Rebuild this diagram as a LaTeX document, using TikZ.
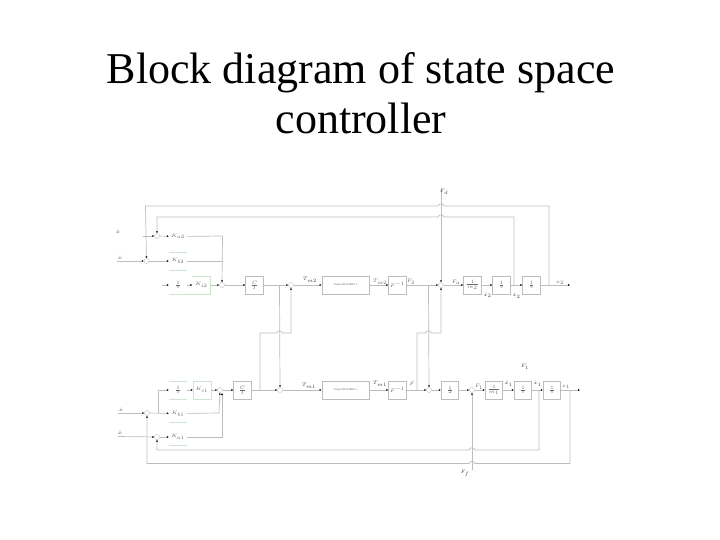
\documentclass[tikz,border=0pt]{standalone}
\usepackage{fontspec}
\setmainfont{Liberation Serif}
\usetikzlibrary{arrows.meta}
\DeclareMathSizes{3.2}{3.2}{2.4}{2}
\DeclareMathSizes{3.6}{3.6}{2.6}{2}
\definecolor{ln}{HTML}{BDBDBD}
\definecolor{gr}{HTML}{CFE5CF}
\definecolor{tx}{HTML}{666666}
\tikzset{
  x=1pt,y=-1pt,
  wire/.style={draw=ln,line width=0.7pt},
  arr/.style={wire,-{Latex[black,length=2pt,width=2pt]}},
  blk/.style={draw=ln,line width=0.7pt,minimum width=17.5pt,minimum height=18pt,inner sep=0pt,font=\fontsize{3.2}{3.5}\selectfont\itshape,text=tx,fill=white},
  gblk/.style={blk,draw=none},
  sumj/.style={circle,draw=ln,line width=0.4pt,minimum size=5pt,inner sep=0pt,fill=white},
  lbl/.style={font=\fontsize{3.6}{4}\selectfont\itshape,text=tx,inner sep=0pt},
  dlbl/.style={lbl,text=black!75},
  ttl/.style={font=\fontsize{44}{50}\selectfont,align=center,inner sep=0pt,text=black}
}
\begin{document}
\begin{tikzpicture}
\useasboundingbox (0,0) rectangle (720,540);
\node[ttl] (title) at (361,93) {Block diagram of state space\\controller};
% top row
\node[sumj] (s1) at (157,236) {};
\node[sumj] (s2) at (146.5,261) {};
\node[gblk] (ka) at (178,236.5) {$K_{a2}$};
\node[gblk] (kb) at (178,261) {$K_{b2}$};
\node[gblk] (i2) at (178,285) {$\frac{1}{s}$};
\node[gblk] (ki2) at (201.5,285) {$K_{i2}$};
\node[sumj] (s3) at (222,285) {};
\node[blk] (c2) at (254.5,285) {$\frac{C}{I}$};
\node[sumj] (s4) at (291,285) {};
\node[blk,minimum width=47pt] (t2) at (345.5,285) {\fontsize{2.8}{3}\selectfont\upshape Torque MG6/MRG 2};
\node[blk] (f2) at (397.5,285) {$F^{-1}$};
\node[sumj] (s5) at (441,285) {};
\node[blk] (m2) at (472.5,285) {$\frac{1}{m_2}$};
\node[blk] (v2) at (501.5,285) {$\frac{1}{s}$};
\node[blk] (x2) at (531.5,285) {$\frac{1}{s}$};
\coordinate (o2) at (570,285);
\coordinate (in2) at (117,261);
\coordinate (in3) at (162,285);
\coordinate (zd) at (441,189);
% bottom row
\node[gblk] (i1) at (178,390) {$\frac{1}{s}$};
\node[gblk] (ki1) at (202,390) {$K_{i1}$};
\node[sumj] (s6) at (220,390) {};
\node[blk] (c1) at (242.5,390) {$\frac{C}{I}$};
\node[sumj] (s7) at (280,390) {};
\node[blk,minimum width=47pt] (t1) at (345.5,390) {\fontsize{2.8}{3}\selectfont\upshape Torque MG6/MRG 1};
\node[blk] (f1) at (397.5,390) {$F^{-1}$};
\node[sumj] (s8) at (429,390) {};
\node[blk] (g1) at (450,390) {$\frac{1}{2}$};
\node[sumj] (s9) at (472,390) {};
\node[blk] (m1) at (494,390) {$\frac{1}{m_1}$};
\node[blk] (v1) at (523,390) {$\frac{1}{s}$};
\node[blk] (x1) at (552,390) {$\frac{1}{s}$};
\coordinate (o1) at (580,390);
\node[sumj] (s10) at (147,413) {};
\node[sumj] (s11) at (157,437) {};
\node[gblk] (kb1) at (178,413.5) {$K_{b1}$};
\node[gblk] (ka1) at (178,437) {$K_{a1}$};
\coordinate (in4) at (118,413);
\coordinate (in5) at (118,436.5);
\coordinate (fb) at (472,470);
% green block edges
\draw[gr,line width=0.6pt] (169,252)--(187,252) (169,270)--(187,270) (169,294)--(210,294)--(210,276)--(192,276);
\draw[gr,line width=0.6pt] (169,381)--(187,381) (169,399)--(187,399) (193,381)--(211,381)--(211,399)--(193,399)--cycle;
\draw[gr,line width=0.6pt] (169,422)--(187,422) (169,445)--(187,445);
% top wires
\path[arr] (in2) -- (s2);
\path[arr] (s2) -- (kb);
\path[arr] (143,236) -- (s1);
\path[arr] (s1) -- (ka);
\path[wire] (kb) -- (222.5,261);
\path[wire] (ka) -- (222.5,236);
\path[arr] (222.5,236) -- (s3);
\path[arr] (in3) -- (i2);
\path[arr] (i2) -- (ki2);
\path[arr] (ki2) -- (s3);
\path[arr] (s3) -- (c2);
\path[arr] (c2) -- (s4);
\path[arr] (s4) -- (t2);
\path[arr] (t2) -- (f2);
\path[arr] (f2) -- (s5);
\path[arr] (s5) -- (m2);
\path[arr] (m2) -- (v2);
\path[arr] (v2) -- (x2);
\path[arr] (x2) -- (o2);
% top feedback with hops
\path[arr] (549,285) -- (549,206) -- (444,206) .. controls (443,203) and (439,203) .. (438,206) -- (145.5,206) -- (s2);
\path[arr] (514,285) -- (514,217) -- (444,217) .. controls (443,214) and (439,214) .. (438,217) -- (157,217) -- (s1);
\path[arr] (zd) -- (s5);
% cross links
\path[arr] (417,390) -- (417,333) -- (425.5,333) .. controls (426.5,330) and (430.5,330) .. (431.5,333) -- (441,333) -- (s5);
\path[arr] (428.5,285) -- (s8);
\path[arr] (260,390) -- (260,333) -- (276.5,333) .. controls (277.5,330) and (281.5,330) .. (282.5,333) -- (291,333) -- (s4);
\path[arr] (279.5,285) -- (s7);
% bottom wires
\path[arr] (in4) -- (s10);
\path[arr] (s10) -- (kb1);
\path[arr] (158,413) -- (158,390) -- (i1);
\path[arr] (i1) -- (ki1);
\path[arr] (ki1) -- (s6);
\path[arr] (kb1) -- (219,413) -- (s6);
\path[arr] (ka1) -- (222,437) -- (222,393);
\path[arr] (in5) -- (s11);
\path[arr] (s11) -- (ka1);
\path[arr] (s6) -- (c1);
\path[arr] (c1) -- (s7);
\path[arr] (s7) -- (t1);
\path[arr] (t1) -- (f1);
\path[arr] (f1) -- (s8);
\path[arr] (s8) -- (g1);
\path[arr] (g1) -- (s9);
\path[arr] (s9) -- (m1);
\path[arr] (m1) -- (v1);
\path[arr] (v1) -- (x1);
\path[arr] (x1) -- (o1);
\path[arr] (539,390) -- (539,450) -- (475,450) .. controls (474,447) and (470,447) .. (469,450) -- (157,450) -- (s11);
\path[arr] (570,390) -- (570,463.5) -- (475,463.5) .. controls (474,460.5) and (470,460.5) .. (469,463.5) -- (147,463.5) -- (s10);
\path[arr] (fb) -- (s9);
% labels
\node[dlbl] (l1) at (118,232) {$\ddot{x}$};
\node[dlbl] (l2) at (120,258) {$\dot{x}$};
\node[dlbl] (l3) at (444,192) {$F_d$};
\node[dlbl] (l4) at (310,280) {$T_{m2}$};
\node[lbl] (l5) at (380,282) {$T_{m2}$};
\node[lbl] (l6) at (411,282) {$F_2$};
\node[lbl] (l7) at (456,282) {$F_a$};
\node[dlbl] (l8) at (487.5,295.5) {$\ddot{x}_2$};
\node[dlbl] (l9) at (516.5,296) {$\dot{x}_2$};
\node[lbl] (l10) at (560,283) {$x_2$};
\node[dlbl] (l11) at (121,410) {$\dot{x}$};
\node[dlbl] (l12) at (120,433) {$\ddot{x}$};
\node[dlbl] (l13) at (309,386) {$T_{m1}$};
\node[dlbl] (l14) at (380,384) {$T_{m1}$};
\node[lbl] (l15) at (412,384) {$F$};
\node[lbl] (l16) at (479,387) {$F_1$};
\node[dlbl] (l17) at (508.5,384) {$\ddot{x}_1$};
\node[dlbl] (l18) at (537.5,384) {$\dot{x}_1$};
\node[lbl] (l19) at (566,387) {$x_1$};
\node[dlbl] (l20) at (525,367) {$F_1$};
\node[dlbl] (l21) at (465,473) {$F_f$};
\end{tikzpicture}
\end{document}
